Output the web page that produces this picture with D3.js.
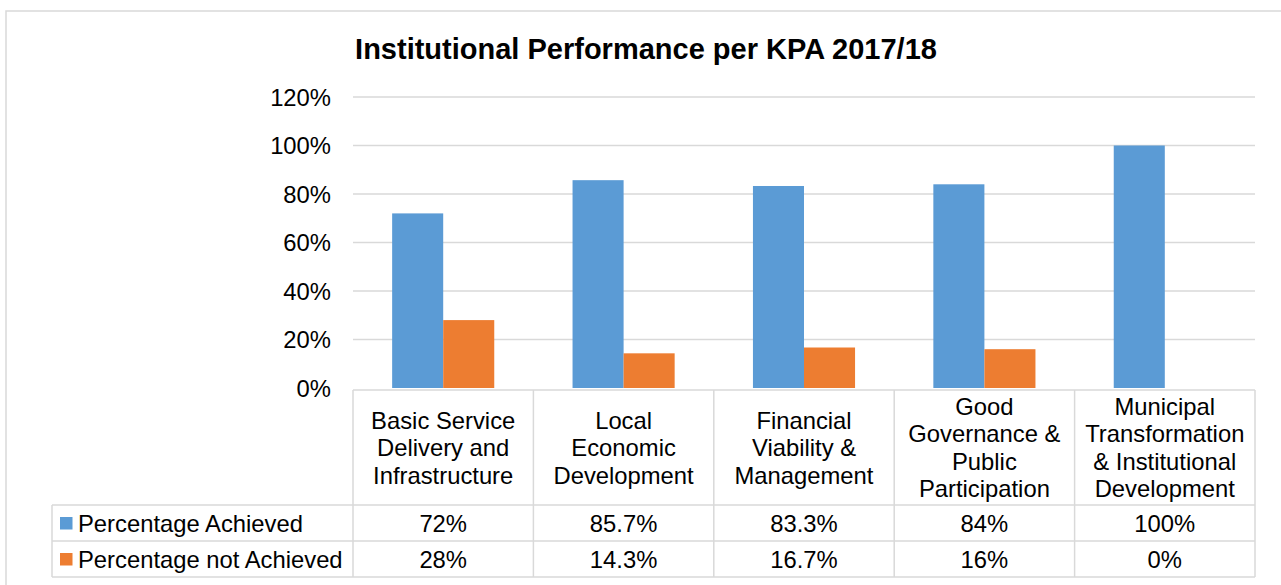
<!DOCTYPE html>
<html>
<head>
<meta charset="utf-8">
<script src="https://cdn.jsdelivr.net/npm/d3@7"></script>
<style>
  body { margin: 0; background: #fff; }
  text { font-family: "Liberation Sans", Arial, sans-serif; fill: #000; }
</style>
</head>
<body>
<div id="grafico"></div>
<script>
// Datos del grafico
var categories = [
  "Basic Service Delivery and Infrastructure",
  "Local Economic Development",
  "Financial Viability & Management",
  "Good Governance & Public Participation",
  "Municipal Transformation & Institutional Development"
];
var categoryLines = [
  ["Basic Service", "Delivery and", "Infrastructure"],
  ["Local", "Economic", "Development"],
  ["Financial", "Viability &", "Management"],
  ["Good", "Governance &", "Public", "Participation"],
  ["Municipal", "Transformation", "& Institutional", "Development"]
];
var seriesNames = ["Percentage Achieved", "Percentage not Achieved"];
var achieved = [0.72, 0.857, 0.833, 0.84, 1.0];
var notAchieved = [0.28, 0.143, 0.167, 0.16, 0.0];
var achievedLabels = ["72%", "85.7%", "83.3%", "84%", "100%"];
var notAchievedLabels = ["28%", "14.3%", "16.7%", "16%", "0%"];
var yTicks = [0, 0.2, 0.4, 0.6, 0.8, 1.0, 1.2];
var colors = ["#5b9bd5", "#ed7d31"];

var W = 1281, H = 585;
var plotLeft = 353, plotRight = 1255, plotTop = 97, plotBase = 388;
var gridColor = "#d9d9d9";
var fs = "23.8px";

var svg = d3.select("#grafico").append("svg")
  .attr("width", W).attr("height", H);

// Borde exterior
svg.append("path")
  .attr("d", "M6," + H + "V11H" + W)
  .attr("fill", "none")
  .attr("stroke", gridColor)
  .attr("stroke-width", 1.5);

// Titulo
svg.append("text")
  .attr("x", 646).attr("y", 59)
  .attr("text-anchor", "middle")
  .style("font-size", "29px")
  .style("font-weight", "bold")
  .text("Institutional Performance per KPA 2017/18");

// Escalas
var y = d3.scaleLinear().domain([0, 1.2]).range([plotBase, plotTop]);
var x = d3.scaleBand().domain(categories).range([plotLeft, plotRight]);
var bw = x.bandwidth();
var xs = d3.scaleBand().domain(seriesNames).range([bw * 0.217, bw * 0.783]);

// Lineas de cuadricula y etiquetas del eje
svg.append("g").selectAll("line")
  .data(yTicks.filter(function(d) { return d > 0; }))
  .enter().append("line")
  .attr("x1", plotLeft).attr("x2", plotRight)
  .attr("y1", function(d) { return y(d); })
  .attr("y2", function(d) { return y(d); })
  .attr("stroke", gridColor)
  .attr("stroke-width", 1.5);

svg.append("g").selectAll("text")
  .data(yTicks)
  .enter().append("text")
  .attr("x", 331)
  .attr("y", function(d) { return y(d); })
  .attr("dy", "0.36em")
  .attr("text-anchor", "end")
  .style("font-size", fs)
  .text(function(d) { return d3.format(".0%")(d); });

// Barras
var series = [achieved, notAchieved];
series.forEach(function(vals, s) {
  svg.append("g").selectAll("rect")
    .data(vals)
    .enter().append("rect")
    .attr("x", function(d, i) { return x(categories[i]) + xs(seriesNames[s]); })
    .attr("width", xs.bandwidth())
    .attr("y", function(d) { return y(d); })
    .attr("height", function(d) { return plotBase - y(d); })
    .attr("fill", colors[s]);
});

// Tabla de datos
var headTop = 390, headBot = 505, row1 = 541, row2 = 577, legLeft = 52;
var tbl = svg.append("g")
  .attr("stroke", gridColor)
  .attr("stroke-width", 1.5)
  .attr("fill", "none");

// horizontales
tbl.append("line").attr("x1", plotLeft).attr("x2", plotRight).attr("y1", headTop).attr("y2", headTop);
[headBot, row1, row2].forEach(function(yy) {
  tbl.append("line").attr("x1", legLeft).attr("x2", plotRight).attr("y1", yy).attr("y2", yy);
});
// verticales
tbl.append("line").attr("x1", legLeft).attr("x2", legLeft).attr("y1", headBot).attr("y2", row2);
categories.forEach(function(c) {
  tbl.append("line").attr("x1", x(c)).attr("x2", x(c)).attr("y1", headTop).attr("y2", row2);
});
tbl.append("line").attr("x1", plotRight).attr("x2", plotRight).attr("y1", headTop).attr("y2", row2);

// Cabeceras de categoria
var lh = 27.5;
categoryLines.forEach(function(lines, i) {
  var cx = x(categories[i]) + bw / 2;
  var cy = (headTop + headBot) / 2;
  var t = svg.append("text")
    .attr("text-anchor", "middle")
    .style("font-size", fs);
  lines.forEach(function(l, k) {
    t.append("tspan")
      .attr("x", cx)
      .attr("y", cy + (k - (lines.length - 1) / 2) * lh)
      .attr("dy", "0.36em")
      .text(l);
  });
});

// Filas de valores con leyenda
var rows = [
  { top: headBot, bot: row1, labels: achievedLabels },
  { top: row1, bot: row2, labels: notAchievedLabels }
];
rows.forEach(function(r, s) {
  var cy = (r.top + r.bot) / 2;
  svg.append("rect")
    .attr("x", 60).attr("y", cy - 6)
    .attr("width", 12.5).attr("height", 12.5)
    .attr("fill", colors[s]);
  svg.append("text")
    .attr("x", 78).attr("y", cy).attr("dy", "0.36em")
    .style("font-size", fs)
    .text(seriesNames[s]);
  svg.append("g").selectAll("text")
    .data(r.labels)
    .enter().append("text")
    .attr("x", function(d, i) { return x(categories[i]) + bw / 2; })
    .attr("y", cy).attr("dy", "0.36em")
    .attr("text-anchor", "middle")
    .style("font-size", fs)
    .text(function(d) { return d; });
});
</script>
</body>
</html>
